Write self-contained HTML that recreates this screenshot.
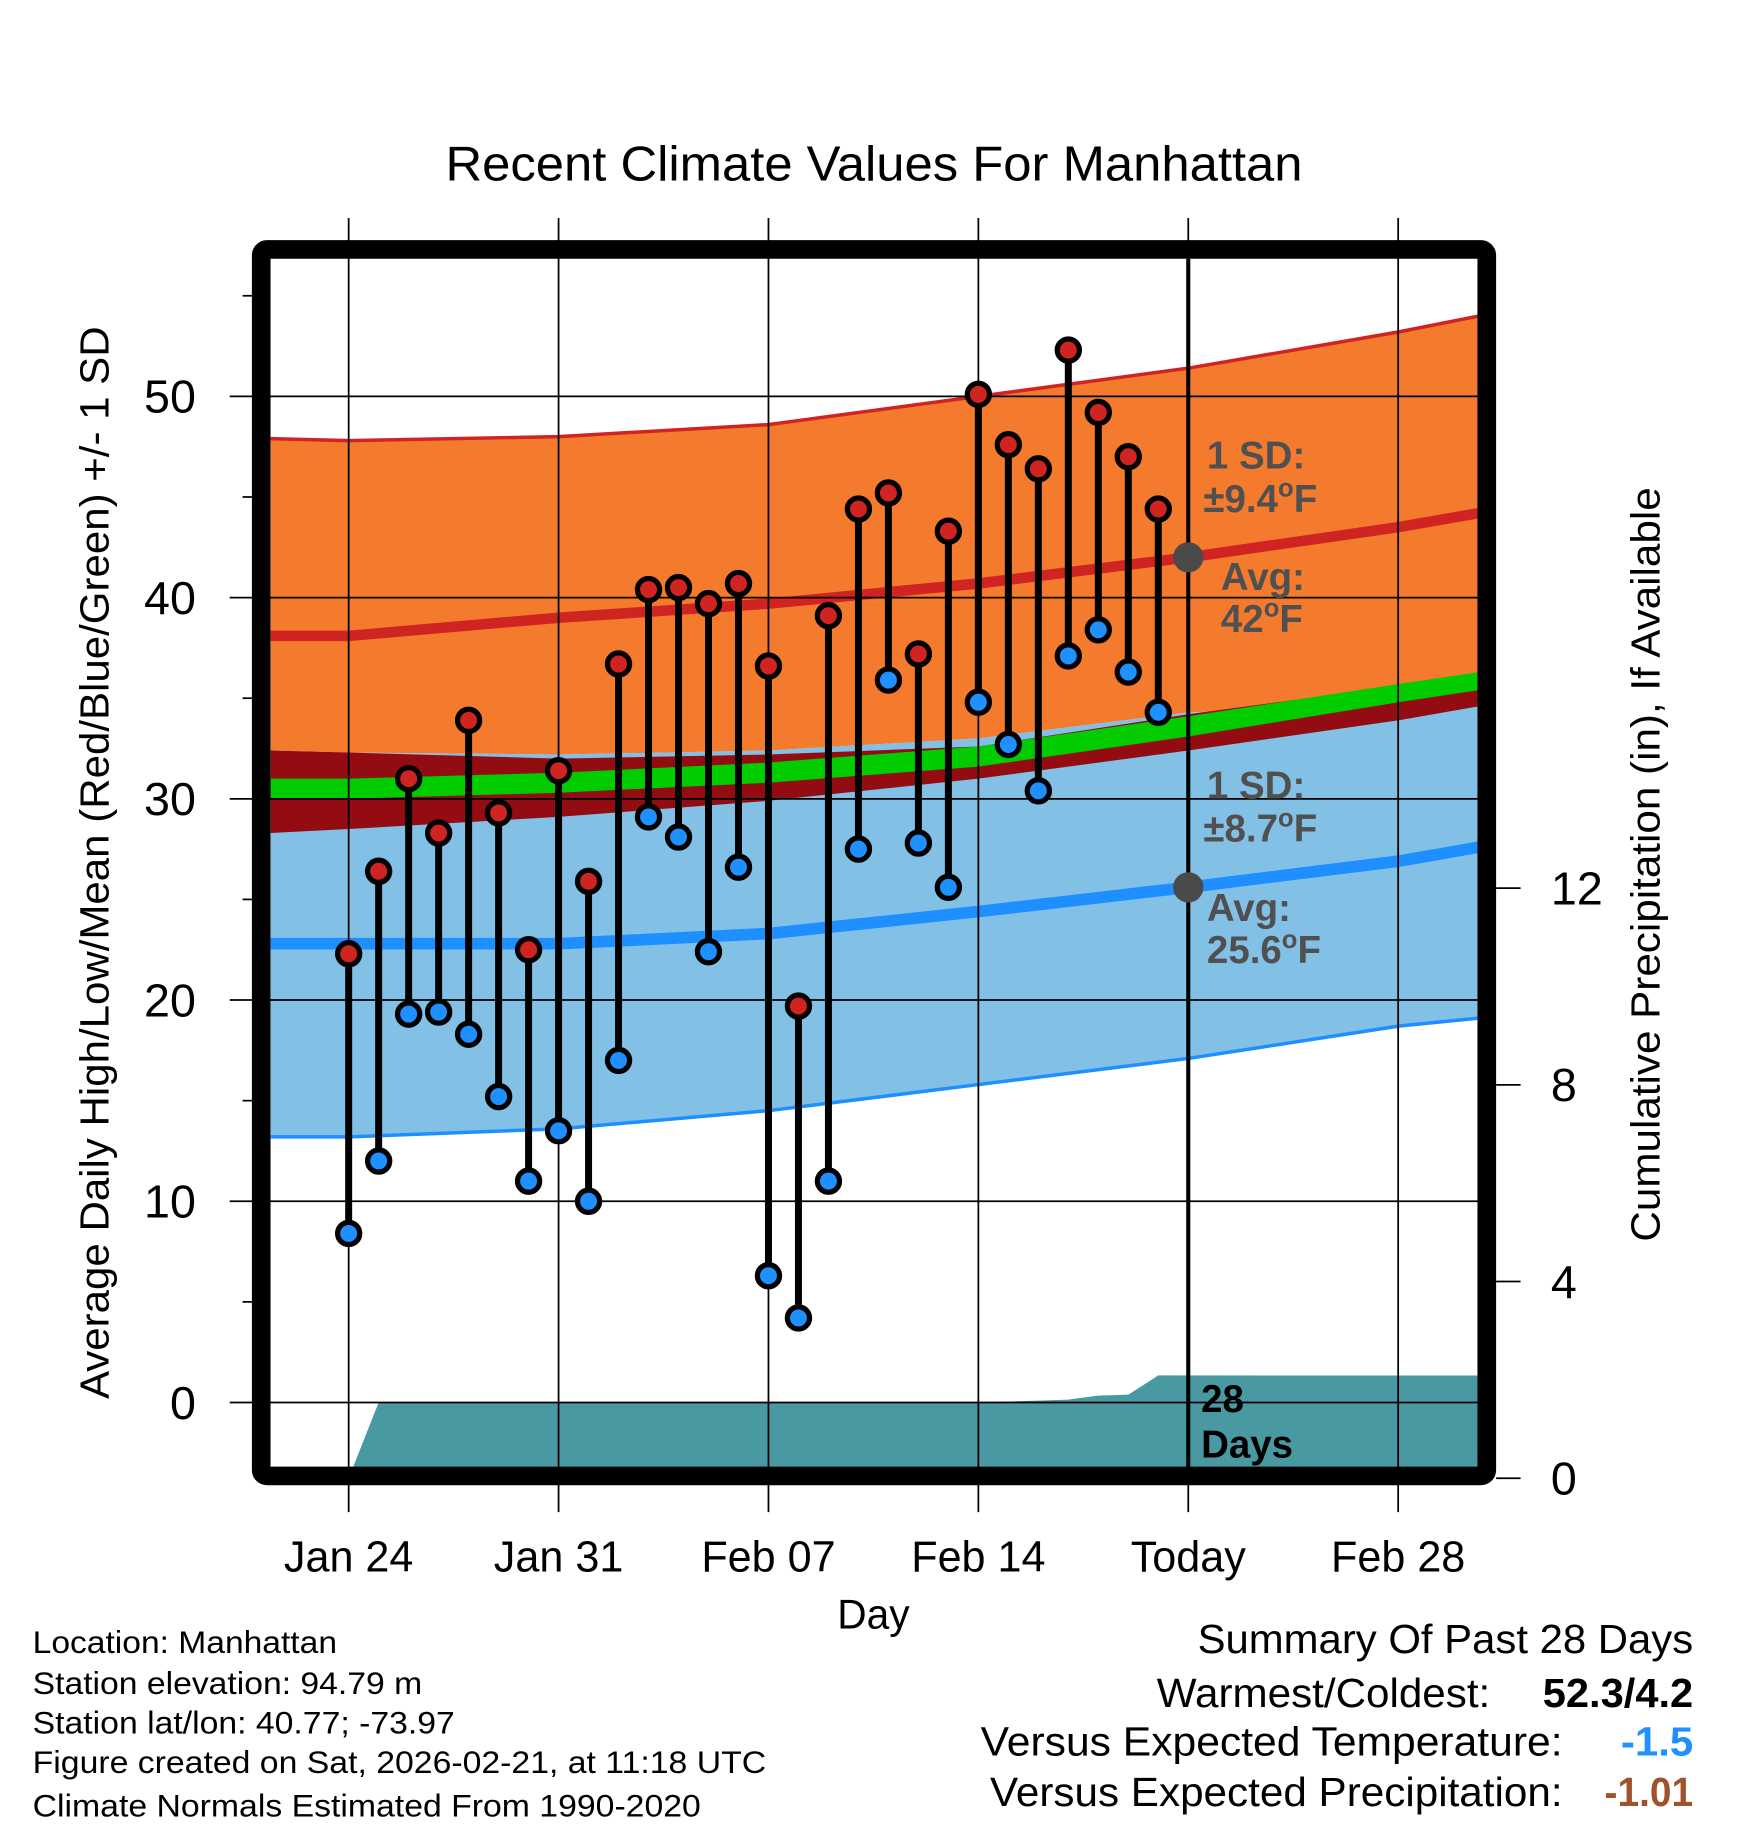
<!DOCTYPE html>
<html><head><meta charset="utf-8"><style>
html,body{margin:0;padding:0;background:#fff}
svg{display:block}
text{font-family:"Liberation Sans",Arial,sans-serif}
</style></head><body>
<svg id="chart" width="1748" height="1828" viewBox="0 0 1499 1568" preserveAspectRatio="none" xmlns="http://www.w3.org/2000/svg">
<defs><clipPath id="plotclip"><rect x="232" y="222" width="1036" height="1037"/></clipPath></defs>
<rect width="1499" height="1568" fill="#fff"/>
<text x="382" y="155" font-size="42" textLength="735" lengthAdjust="spacingAndGlyphs">Recent Climate Values For Manhattan</text>
<g id="bands" clip-path="url(#plotclip)"></g>
<g id="grid"></g>
<g id="marks" clip-path="url(#plotclip)"></g>
<g id="axes"></g>
<rect x="224" y="214" width="1051" height="1052" rx="5" fill="none" stroke="#000" stroke-width="16"/>
<g font-weight="bold" font-size="33" fill="#505050">
<text x="1035" y="402">1 SD:</text>
<text x="1032" y="439">±9.4<tspan font-size="22" dy="-13">o</tspan><tspan dy="13">F</tspan></text>
<text x="1047" y="506">Avg:</text>
<text x="1047" y="542">42<tspan font-size="22" dy="-13">o</tspan><tspan dy="13">F</tspan></text>
<text x="1035" y="685">1 SD:</text>
<text x="1032" y="722">±8.7<tspan font-size="22" dy="-13">o</tspan><tspan dy="13">F</tspan></text>
<text x="1035" y="790">Avg:</text>
<text x="1035" y="826">25.6<tspan font-size="22" dy="-13">o</tspan><tspan dy="13">F</tspan></text>
<text x="1030" y="1211" fill="#000">28</text>
<text x="1030" y="1250" fill="#000">Days</text>
</g>
<text x="718" y="1397" font-size="36" textLength="62" lengthAdjust="spacingAndGlyphs">Day</text>
<text transform="translate(93,1200) rotate(-90)" font-size="35" textLength="920" lengthAdjust="spacingAndGlyphs">Average Daily High/Low/Mean (Red/Blue/Green) +/- 1 SD</text>
<text transform="translate(1423,1065) rotate(-90)" font-size="35" textLength="647" lengthAdjust="spacingAndGlyphs">Cumulative Precipitation (in), If Available</text>
<g font-size="27" lengthAdjust="spacingAndGlyphs">
<text x="28" y="1418" textLength="261" lengthAdjust="spacingAndGlyphs">Location: Manhattan</text>
<text x="28" y="1453" textLength="334" lengthAdjust="spacingAndGlyphs">Station elevation: 94.79 m</text>
<text x="28" y="1487" textLength="362" lengthAdjust="spacingAndGlyphs">Station lat/lon: 40.77; -73.97</text>
<text x="28" y="1521" textLength="629" lengthAdjust="spacingAndGlyphs">Figure created on Sat, 2026-02-21, at 11:18 UTC</text>
<text x="28" y="1558" textLength="573" lengthAdjust="spacingAndGlyphs">Climate Normals Estimated From 1990-2020</text>
</g>
<g font-size="35">
<text x="1027" y="1418" textLength="425" lengthAdjust="spacingAndGlyphs">Summary Of Past 28 Days</text>
<text x="992" y="1464" textLength="286" lengthAdjust="spacingAndGlyphs">Warmest/Coldest:</text>
<text x="1323" y="1464" font-weight="bold" textLength="129" lengthAdjust="spacingAndGlyphs">52.3/4.2</text>
<text x="841" y="1506" textLength="499" lengthAdjust="spacingAndGlyphs">Versus Expected Temperature:</text>
<text x="1390" y="1506" font-weight="bold" fill="#1e90ff" textLength="62" lengthAdjust="spacingAndGlyphs">-1.5</text>
<text x="849" y="1549" textLength="491" lengthAdjust="spacingAndGlyphs">Versus Expected Precipitation:</text>
<text x="1376" y="1549" font-weight="bold" fill="#a0522d" textLength="76" lengthAdjust="spacingAndGlyphs">-1.01</text>
</g>
</svg>
<script>
// ---- data ----
const highs = [22.3,26.4,31.0,28.3,33.9,29.3,22.5,31.4,25.9,36.7,40.4,40.5,39.7,40.7,36.6,19.7,39.1,44.4,45.2,37.2,43.3,50.1,47.6,46.4,52.3,49.2,47.0,44.4];
const lows = [8.4,12.0,19.3,19.4,18.3,15.2,11.0,13.5,10.0,17.0,29.1,28.1,22.4,26.6,6.3,4.2,11.0,27.5,35.9,27.8,25.6,34.8,32.7,30.4,37.1,38.4,36.3,34.3];
const precip = [0,1.54,1.54,1.54,1.54,1.54,1.54,1.54,1.54,1.54,1.54,1.54,1.54,1.54,1.54,1.54,1.54,1.54,1.54,1.54,1.55,1.55,1.56,1.58,1.6,1.68,1.7,2.09];
const normDays = [-2.6,0,7,14,21,28,35,37.7];
const highPlusSD = [47.9,47.8,48.0,48.6,50.0,51.4,53.2,54.0];
const avgHigh = [38.1,38.1,39.0,39.7,40.7,42.0,43.5,44.2];
const lowPlusSD = [32.4,32.3,32.2,32.4,33.0,34.3,34.6,34.8];
const avgLow = [22.8,22.8,22.8,23.3,24.4,25.6,26.9,27.6];
const lowMinusSD = [13.2,13.2,13.6,14.5,15.8,17.1,18.7,19.1];
const meanTop = [32.4,32.3,32.0,32.2,32.6,34.2,35.6,36.0];
const meanBot = [28.3,28.5,29.1,29.9,31.0,32.4,33.9,34.6];
const greenTop = [31.0,31.0,31.3,31.8,32.6,34.1,35.7,36.3];
const greenBot = [30.0,30.0,30.3,30.8,31.6,33.1,34.8,35.4];
const xTickDays = [0,7,14,21,28,35];
const xTickLabels = ["Jan 24","Jan 31","Feb 07","Feb 14","Today","Feb 28"];
const yTicks = [0,10,20,30,40,50];
const y2Ticks = [0,4,8,12];
const todayDay = 28;
const avgHighToday = 42.0, avgLowToday = 25.6;

const NS="http://www.w3.org/2000/svg";
const xd = d => 299 + d*180/7;
const yt = t => 1203 - t*17.26;
const yp = p => 1268 - p*42.18;
function mk(tag, attrs, parent){const e=document.createElementNS(NS,tag);for(const k in attrs)e.setAttribute(k,attrs[k]);parent.appendChild(e);return e;}
const bands=document.getElementById('bands'), grid=document.getElementById('grid'), marks=document.getElementById('marks'), axes=document.getElementById('axes');
const pts = arr => arr.map((v,i)=>xd(normDays[i]).toFixed(1)+","+yt(v).toFixed(1));
function band(top,bot,fill,name){
  const p = pts(top).concat(pts(bot).reverse());
  const e=mk('polygon',{points:p.join(' '),fill:fill},bands);
  
  
}
function line(arr,color,w,name){
  const e=mk('polyline',{points:pts(arr).join(' '),fill:'none',stroke:color,'stroke-width':w},bands);
  
  
}
{
  let p = precip.map((v,i)=>xd(i).toFixed(1)+","+yp(v).toFixed(1));
  p.push(xd(38)+","+yp(precip[precip.length-1]));
  p.push(xd(38)+",1300"); p.push(xd(0)+",1300");
  const e=mk('polygon',{points:p.join(' '),fill:'#4899a2'},bands);
  
  
}
band(highPlusSD,lowPlusSD,'#f47a2e','high-sd-band');
band(lowPlusSD,lowMinusSD,'#82c0e6','low-sd-band');
band(meanTop,meanBot,'#930c12','mean-band');
band(greenTop,greenBot,'#00cc00','mean-line-band');
line(highPlusSD,'#d02422',3,'high-sd-upper-line');
line(lowMinusSD,'#1e8fff',3,'low-sd-lower-line');
line(avgHigh,'#d02422',9,'avg-high-line');
line(avgLow,'#1e8fff',10,'avg-low-line');
bands.appendChild(bands.firstChild);
xTickDays.forEach((d,i)=>{
  const g=mk('line',{x1:xd(d),x2:xd(d),y1:187,y2:1297,stroke:'#000','stroke-width':1.5},grid);
  
  
  const t=mk('text',{x:xd(d),y:1348,'font-size':37,'text-anchor':'middle'},axes);
  t.textContent=xTickLabels[i];
  
  
});
yTicks.forEach(v=>{
  const g=mk('line',{x1:197,x2:1268,y1:yt(v),y2:yt(v),stroke:'#000','stroke-width':1.5},grid);
  
  
  const t=mk('text',{x:168,y:yt(v)+14,'font-size':40,'text-anchor':'end'},axes);
  t.textContent=v;
  
  
});
[5,15,25,35,45,55].forEach(v=>{
  const m=mk('line',{x1:208,x2:216,y1:yt(v),y2:yt(v),stroke:'#000','stroke-width':1.5},axes);
  
  
});
y2Ticks.forEach(v=>{
  const m=mk('line',{x1:1283,x2:1304,y1:yp(v),y2:yp(v),stroke:'#000','stroke-width':1.5},axes);
  
  
  const t=mk('text',{x:1330,y:yp(v)+14,'font-size':40},axes);
  t.textContent=v;
  
  
});
{
  const l=mk('line',{x1:xd(todayDay),x2:xd(todayDay),y1:222,y2:1259,stroke:'#000','stroke-width':3.5},marks);
  
  
  const a=mk('circle',{cx:xd(todayDay),cy:yt(avgHighToday),r:13,fill:'#4a4a4a'},marks);
  
  
  const b=mk('circle',{cx:xd(todayDay),cy:yt(avgLowToday),r:13,fill:'#4a4a4a'},marks);
  
  
}
highs.forEach((h,i)=>{
  const x=xd(i);
  const s=mk('line',{x1:x,x2:x,y1:yt(h),y2:yt(lows[i]),stroke:'#000','stroke-width':6},marks);
  
  
  const hc=mk('circle',{cx:x,cy:yt(h),r:9.5,fill:'#d02422',stroke:'#000','stroke-width':4.5},marks);
  
  
  const lc=mk('circle',{cx:x,cy:yt(lows[i]),r:9.5,fill:'#1e90ff',stroke:'#000','stroke-width':4.5},marks);
  
  
});
</script>
</body></html>
